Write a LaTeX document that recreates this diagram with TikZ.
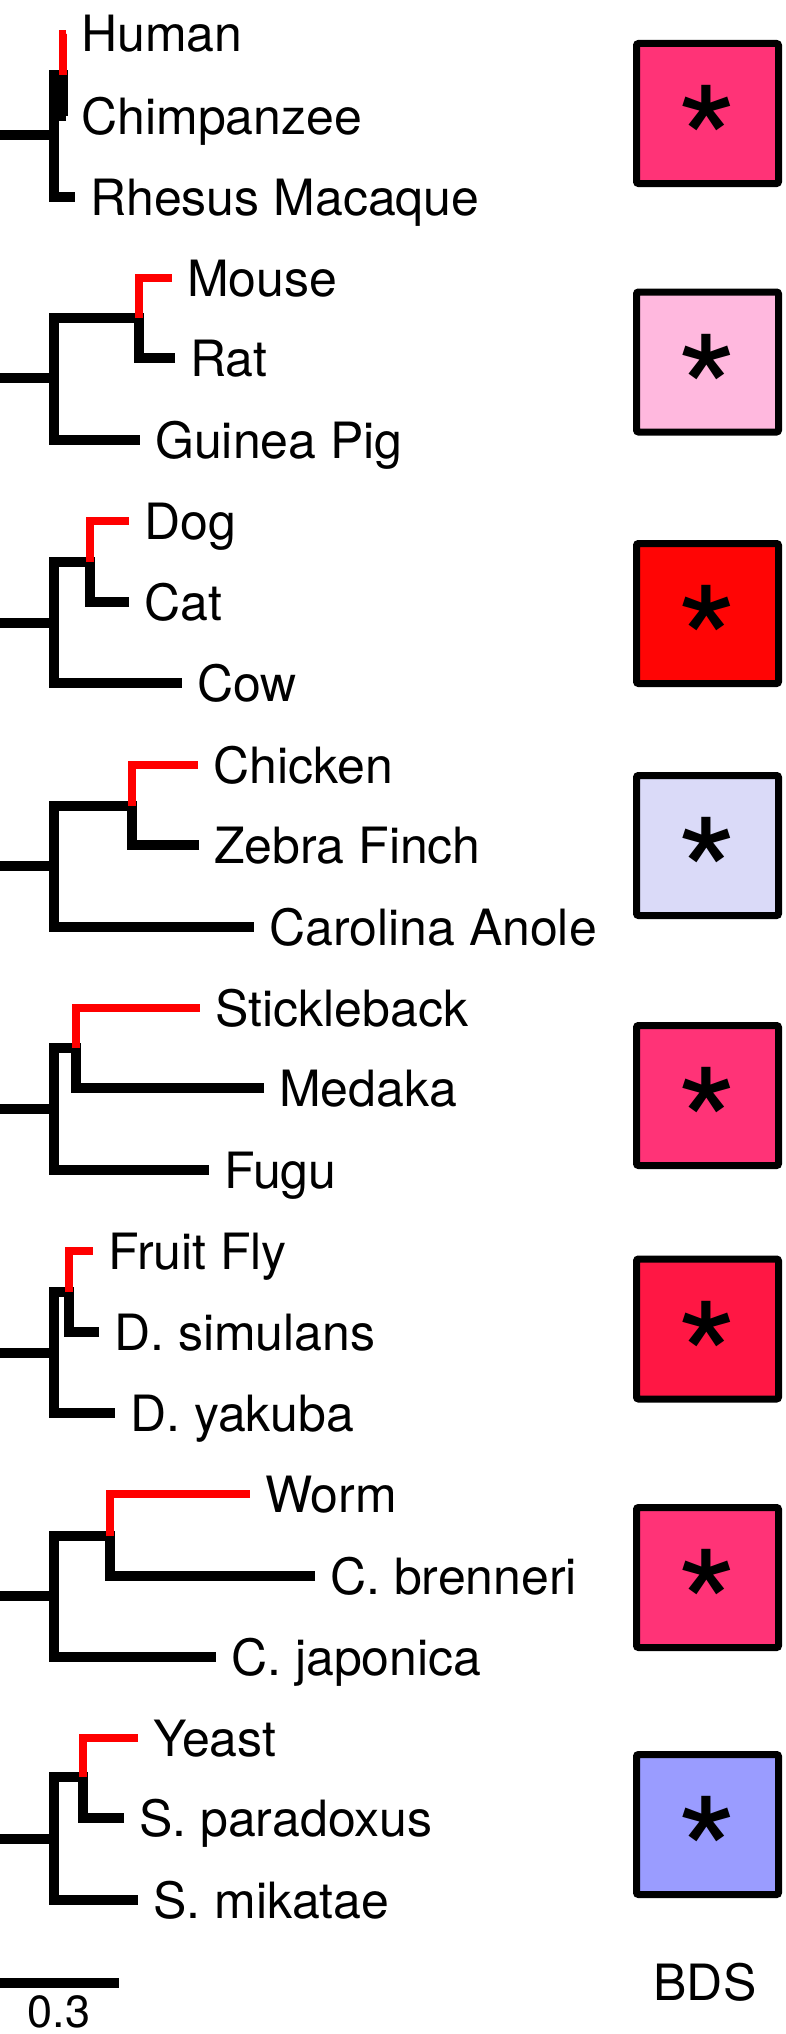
\documentclass[tikz,border=0pt]{standalone}
\usepackage{fontspec}
\setmainfont{TeX Gyre Heros}
\definecolor{branchred}{HTML}{FF0000}
\definecolor{hotpink}{HTML}{FF3377}
\definecolor{palepink}{HTML}{FFB8DE}
\definecolor{fullred}{HTML}{FF0505}
\definecolor{lavender}{HTML}{DADAF8}
\definecolor{crimson}{HTML}{FF1744}
\definecolor{periwinkle}{HTML}{9A9CFF}
\tikzset{br/.style={draw=black,line width=9.5pt},hl/.style={draw=branchred,line width=8.5pt},leaf/.style={anchor=west,inner xsep=15pt,inner ysep=0pt,text height=36pt,text depth=0pt,font=\fontsize{50}{60}\selectfont}}

\begin{document}
\begin{tikzpicture}[x=1pt,y=-1pt,lbl/.style={inner sep=0pt,text height=36pt,text depth=0pt,font=\fontsize{50}{60}\selectfont},bds/.style={draw=black,line width=7pt,rounded corners=2pt,minimum width=142pt,minimum height=140pt,inner sep=0pt},sig/.style={anchor=base,inner sep=0pt,font=\fontsize{158}{160}\selectfont}]
\useasboundingbox (0,0) rectangle (786,2034);
% primates
\coordinate (o1) at (0,135); \coordinate (n1) at (54,135); \coordinate (c1) at (63,75);
\node[leaf] (hum) at (66,34) {Human};
\node[leaf] (chi) at (66,116) {Chimpanzee};
\node[leaf] (rhe) at (75,197) {Rhesus Macaque};
\draw[br] (o1)--(n1);
\draw[br] (chi.west)-|(c1)-|(n1)|-(rhe.west);
\draw[hl] (c1)|-(hum.west);
% rodents
\coordinate (o2) at (0,378); \coordinate (n2) at (54,378); \coordinate (c2) at (139,318);
\node[leaf] (mou) at (172,278) {Mouse};
\node[leaf] (rat) at (175,358) {Rat};
\node[leaf] (gpg) at (140,440) {Guinea Pig};
\draw[br] (o2)--(n2);
\draw[br] (rat.west)-|(c2)-|(n2)|-(gpg.west);
\draw[hl] (c2)|-(mou.west);
% carnivores
\coordinate (o3) at (0,623); \coordinate (n3) at (54,623); \coordinate (c3) at (90,562);
\node[leaf] (dog) at (129,521) {Dog};
\node[leaf] (cat) at (129,602) {Cat};
\node[leaf] (cow) at (182,683) {Cow};
\draw[br] (o3)--(n3);
\draw[br] (cat.west)-|(c3)-|(n3)|-(cow.west);
\draw[hl] (c3)|-(dog.west);
% birds
\coordinate (o4) at (0,866); \coordinate (n4) at (54,866); \coordinate (c4) at (132,806);
\node[leaf] (chk) at (198,765) {Chicken};
\node[leaf] (zfi) at (199,845) {Zebra Finch};
\node[leaf] (ano) at (254,927) {Carolina Anole};
\draw[br] (o4)--(n4);
\draw[br] (zfi.west)-|(c4)-|(n4)|-(ano.west);
\draw[hl] (c4)|-(chk.west);
% fish
\coordinate (o5) at (0,1109); \coordinate (n5) at (54,1109); \coordinate (c5) at (76,1048);
\node[leaf] (stk) at (200,1008) {Stickleback};
\node[leaf] (med) at (264,1088) {Medaka};
\node[leaf] (fug) at (209,1170) {Fugu};
\draw[br] (o5)--(n5);
\draw[br] (med.west)-|(c5)-|(n5)|-(fug.west);
\draw[hl] (c5)|-(stk.west);
% flies
\coordinate (o6) at (0,1353); \coordinate (n6) at (54,1353); \coordinate (c6) at (69,1292);
\node[leaf] (ffl) at (93,1251) {Fruit Fly};
\node[leaf] (dsi) at (99,1332) {D. simulans};
\node[leaf] (dya) at (115,1413) {D. yakuba};
\draw[br] (o6)--(n6);
\draw[br] (dsi.west)-|(c6)-|(n6)|-(dya.west);
\draw[hl] (c6)|-(ffl.west);
% worms
\coordinate (o7) at (0,1596); \coordinate (n7) at (54,1596); \coordinate (c7) at (110,1536);
\node[leaf] (wrm) at (250,1494) {Worm};
\node[leaf] (cbr) at (315,1576) {C. brenneri};
\node[leaf] (cja) at (216,1657) {C. japonica};
\draw[br] (o7)--(n7);
\draw[br] (cbr.west)-|(c7)-|(n7)|-(cja.west);
\draw[hl] (c7)|-(wrm.west);
% yeasts
\coordinate (o8) at (0,1839); \coordinate (n8) at (54,1839); \coordinate (c8) at (83,1777);
\node[leaf] (yst) at (138,1738) {Yeast};
\node[leaf] (spa) at (124,1818) {S. paradoxus};
\node[leaf] (smi) at (138,1900) {S. mikatae};
\draw[br] (o8)--(n8);
\draw[br] (spa.west)-|(c8)-|(n8)|-(smi.west);
\draw[hl] (c8)|-(yst.west);
% BDS column
\node[bds,fill=hotpink] (b1) at (707.5,113.5) {};
\node[bds,fill=palepink] (b2) at (707.5,362) {};
\node[bds,fill=fullred] (b3) at (707.5,613.5) {};
\node[bds,fill=lavender] (b4) at (707.5,845.5) {};
\node[bds,fill=hotpink] (b5) at (707.5,1095.5) {};
\node[bds,fill=crimson] (b6) at (707.5,1329) {};
\node[bds,fill=hotpink] (b7) at (707.5,1577.5) {};
\node[bds,fill=periwinkle] (b8) at (707.5,1824.5) {};
\node[sig] (s1) at ([yshift=-87pt]b1.center) {*};
\node[sig] (s2) at ([yshift=-87pt]b2.center) {*};
\node[sig] (s3) at ([yshift=-87pt]b3.center) {*};
\node[sig] (s4) at ([yshift=-87pt]b4.center) {*};
\node[sig] (s5) at ([yshift=-87pt]b5.center) {*};
\node[sig] (s6) at ([yshift=-87pt]b6.center) {*};
\node[sig] (s7) at ([yshift=-87pt]b7.center) {*};
\node[sig] (s8) at ([yshift=-87pt]b8.center) {*};
\node[lbl] (bdst) at (705,1982) {BDS};
% scale bar
\coordinate (sb0) at (0,1983); \coordinate (sb1) at (119,1983);
\draw[br,line width=10pt] (sb0)--(sb1);
\node[lbl,anchor=north,text height=32pt,font=\fontsize{45}{54}\selectfont] (sbt) at (59,1995) {0.3};
\end{tikzpicture}
\end{document}
